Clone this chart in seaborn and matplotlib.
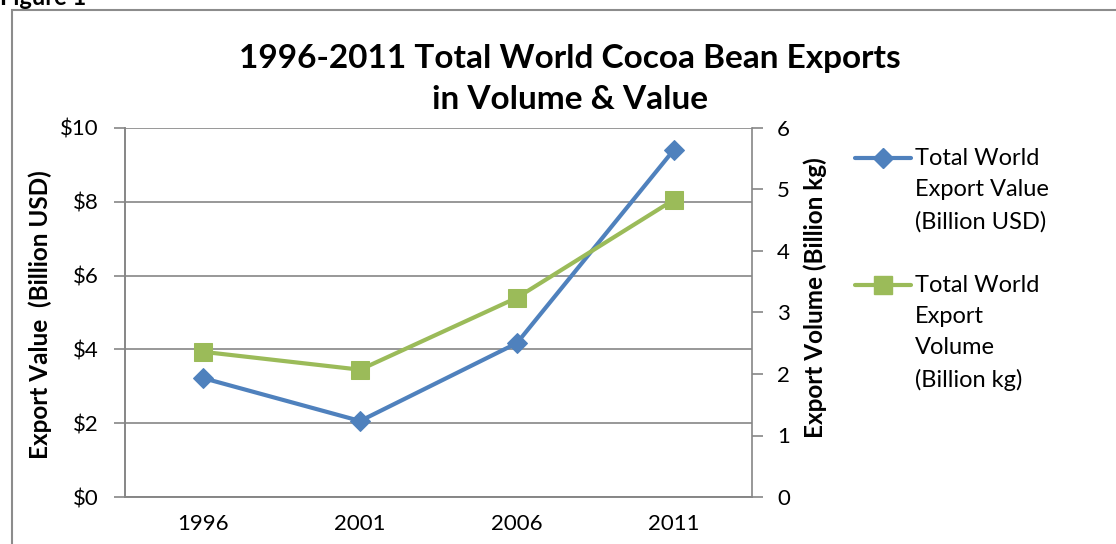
import matplotlib
matplotlib.use("Agg")
import matplotlib.pyplot as plt
from matplotlib.lines import Line2D
from matplotlib.patches import Rectangle
import seaborn as sns

years = ["1996", "2001", "2006", "2011"]
export_value = [3.22, 2.06, 4.17, 9.40]    # billion USD
export_volume = [2.36, 2.07, 3.24, 4.83]   # billion kg

value_label = "Total World\nExport Value\n(Billion USD)"
volume_label = "Total World\nExport\nVolume\n(Billion kg)"

blue = "#4F81BD"
green = "#9BBB59"
gray = "#868686"

sns.set_style("white")
plt.rcParams["font.family"] = ["Lato", "DejaVu Sans"]
plt.rcParams["text.color"] = "black"
plt.rcParams["xtick.labelcolor"] = "black"
plt.rcParams["ytick.labelcolor"] = "black"

W, H = 1116, 544
fig = plt.figure(figsize=(W / 100, H / 100), dpi=100)
ax = fig.add_axes([125 / W, 1 - 497 / H, (752 - 125) / W, (497 - 128) / H])
ax2 = ax.twinx()

sns.lineplot(x=years, y=export_value, ax=ax, color=blue, lw=3, marker="D",
             markersize=10, markeredgecolor=blue, sort=False)
sns.lineplot(x=years, y=export_volume, ax=ax2, color=green, lw=3, marker="s",
             markersize=13, markeredgecolor=green, sort=False)

ax.set_xlim(-0.5, 3.5)
ax.set_ylim(0, 10)
ax2.set_ylim(0, 6)
ax.set_yticks(range(0, 11, 2))
ax.set_yticklabels(["$%d" % v for v in range(0, 11, 2)])
ax2.set_yticks(range(0, 7))

# category axis: ticks between categories, labels centred
ax.set_xticks([-0.5, 0.5, 1.5, 2.5, 3.5])
ax.set_xticklabels([])
ax.set_xticks(range(len(years)), minor=True)
ax.set_xticklabels(years, minor=True)
ax.tick_params(axis="x", which="major", length=7, width=1.2, color=gray, direction="out")
ax.tick_params(axis="x", which="minor", length=0, pad=12, labelsize=16)
ax.tick_params(axis="y", length=8, width=1.2, color=gray, direction="out", pad=11, labelsize=16)
ax2.tick_params(axis="y", length=8, width=1.2, color=gray, direction="out", pad=10, labelsize=16)

ax.grid(axis="y", color=gray, lw=1.2)
ax.grid(axis="x", visible=False)
ax2.grid(False)
for a in (ax, ax2):
    a.set_xlabel("")
    a.set_ylabel("")
    a.spines["top"].set_visible(False)
    for s in ("left", "right", "bottom"):
        a.spines[s].set_color(gray)
        a.spines[s].set_linewidth(1.2)
ax.spines["right"].set_visible(False)

fig.text(570 / W, 1 - 79 / H, "1996-2011 Total World Cocoa Bean Exports\nin Volume & Value",
         ha="center", va="center", fontsize=24, fontweight="bold", linespacing=1.52)
fig.text(40 / W, 1 - 315 / H, "Export Value  (Billion USD)", rotation=90,
         ha="center", va="center", fontsize=17.5, fontweight="bold")
fig.text(815 / W, 1 - 298 / H, "Export Volume (Billion kg)", rotation=90,
         ha="center", va="center", fontsize=17.5, fontweight="bold")

# legend, handle aligned with the first text line
for y, col, mk, ms, lab in [(158, blue, "D", 10, value_label),
                            (285, green, "s", 13, volume_label)]:
    fig.add_artist(Line2D([855 / W, 883 / W, 911 / W], [1 - y / H] * 3,
                          color=col, lw=3, marker=mk, markersize=ms,
                          markevery=[1], markeredgecolor=col))
    fig.text(915 / W, 1 - (y - 10) / H, lab, ha="left", va="top",
             fontsize=17, linespacing=1.6)

fig.text(0.0, 1 - 5 / H, "Figure 1", ha="left", va="baseline",
         fontsize=17, fontweight="bold")
fig.add_artist(Rectangle((12 / W, -0.1), 1.0, 1.1 - 10 / H, fill=False,
                         edgecolor="#8c8c8c", lw=1.5, transform=fig.transFigure))

fig.savefig("out.png", dpi=100)
